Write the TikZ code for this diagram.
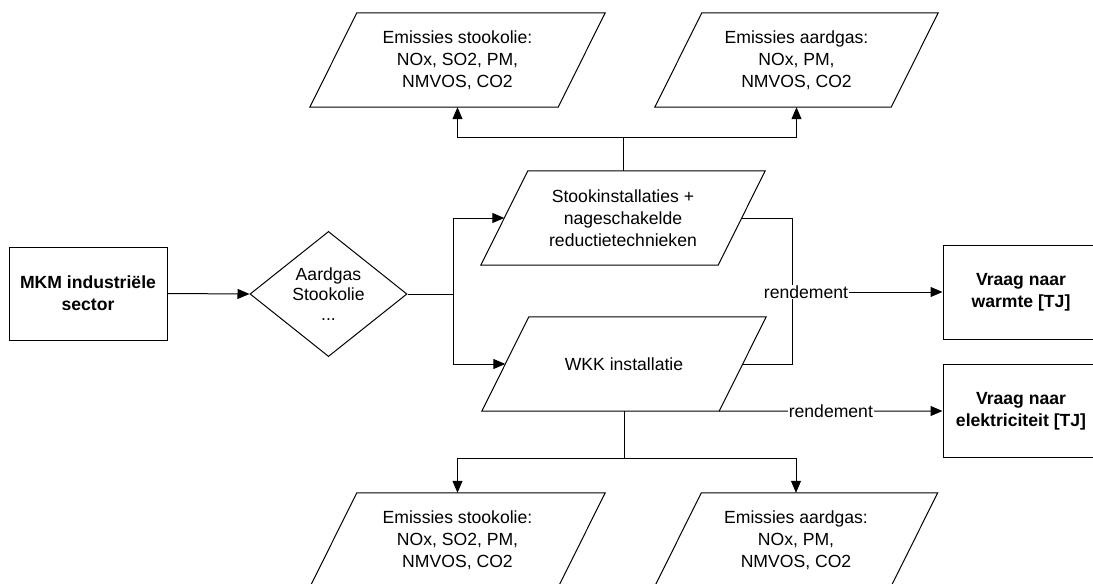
\documentclass[tikz,border=0pt]{standalone}
\usepackage{fontspec}
\setmainfont{Liberation Sans}
\usetikzlibrary{shapes.geometric,arrows.meta,calc}
\newcommand{\drawpara}[1]{\draw[line width=1pt] ($(#1.south west)+(-23.5,0)$) -- ($(#1.north west)+(23.5,0)$) -- ($(#1.north east)+(23.5,0)$) -- ($(#1.south east)+(-23.5,0)$) -- cycle;}
\tikzset{
  base/.style={font=\fontsize{17.6}{22}\selectfont, align=center, inner sep=0pt},
  boldbox/.style={base, font=\fontsize{17.6}{22}\selectfont\bfseries, draw, line width=1pt},
  para/.style={base, minimum height=94},
  dia/.style={base, font=\fontsize{17.6}{20}\selectfont, draw, shape=diamond, minimum width=157, minimum height=122, line width=1pt},
  conn/.style={line width=1pt},
  arr/.style={line width=1pt, -{Triangle[length=12pt,width=10pt]}},
  lbl/.style={base, fill=white, inner sep=1pt}
}
\begin{document}
\begin{tikzpicture}[x=1pt,y=-1pt]
\useasboundingbox (0,0) rectangle (1093,584);
\clip (0,0) rectangle (1093,584);
\fill[white] (0,0) rectangle (1093,584);

% emission shapes (top)
\node[para, minimum width=248] (emtl) at (457.5,60) {Emissies stookolie:\\NOx, SO2, PM,\\NMVOS, CO2};
\node[para, minimum width=236] (emtr) at (796.5,60) {Emissies aardgas:\\NOx, PM,\\NMVOS, CO2};
\drawpara{emtl}
\drawpara{emtr}

% process shapes
\node[para, minimum width=237] (stook) at (623,218) {Stookinstallaties +\\nageschakelde\\reductietechnieken};
\node[para, minimum width=237] (wkk) at (624,364) {WKK installatie};
\drawpara{stook}
\drawpara{wkk}

% emission shapes (bottom)
\node[para, minimum width=248] (embl) at (457.5,540) {Emissies stookolie:\\NOx, SO2, PM,\\NMVOS, CO2};
\node[para, minimum width=236] (embr) at (796,540) {Emissies aardgas:\\NOx, PM,\\NMVOS, CO2};
\drawpara{embl}
\drawpara{embr}

% left part
\node[boldbox, minimum width=158, minimum height=93] (mkm) at (88,293.5) {MKM industriële\\sector};
\node[dia] (dia) at (328.5,294) {Aardgas\\Stookolie\\...};

% demand boxes
\node[boldbox, minimum width=156, minimum height=94] (warm) at (1021,292) {Vraag naar\\warmte [TJ]};
\node[boldbox, minimum width=156, minimum height=93] (elek) at (1021,411) {Vraag naar\\elektriciteit [TJ]};

% junctions
\coordinate (tj) at (623,137);
\coordinate (bj) at (624,458);
\coordinate (jx) at (453,294);
\coordinate (jw) at (792,292);
\coordinate (wbr) at ($(wkk.south east)+(-23.5,0)$);

% connectors
\draw[arr] (mkm.east) -- (dia.west);
\draw[conn] (dia.east) -- (jx);
\draw[arr] (jx) |- (stook.west);
\draw[arr] (jx) |- (wkk.west);

\draw[conn] (stook.north) -- (tj);
\draw[arr] (tj) -| (emtl.south);
\draw[arr] (tj) -| (emtr.south);

\draw[conn] (wkk.south) -- (bj);
\draw[arr] (bj) -| (embl.north);
\draw[arr] (bj) -| (embr.north);

\draw[conn] (stook.east) -| (jw);
\draw[conn] (wkk.east) -| (jw);
\draw[arr] (jw) -- node[lbl, pos=0.093] {rendement} (warm.west);
\draw[arr] (wbr) -- node[lbl] {rendement} (elek.west);
\end{tikzpicture}
\end{document}
